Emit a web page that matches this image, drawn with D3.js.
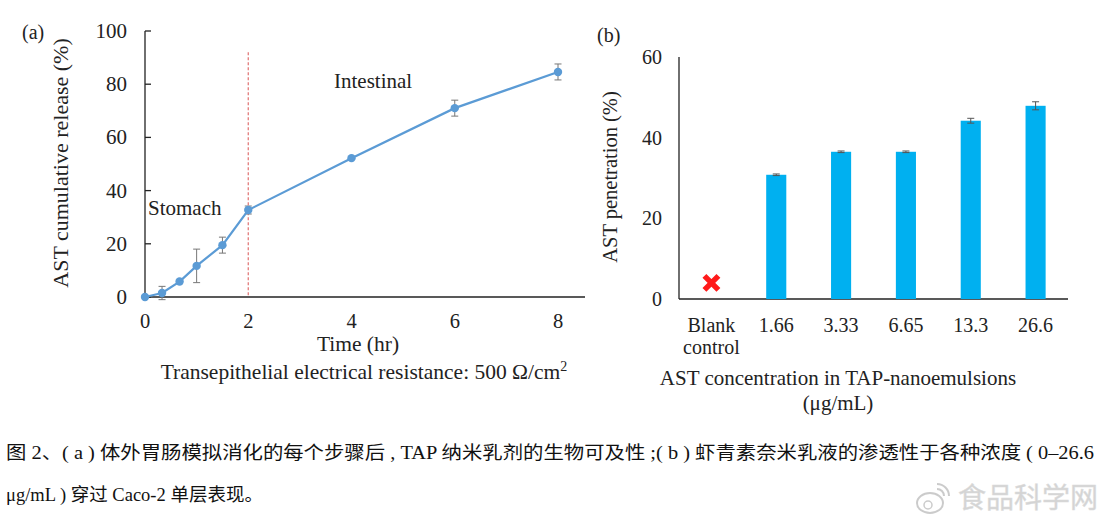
<!DOCTYPE html>
<html><head><meta charset="utf-8">
<script src="https://cdn.jsdelivr.net/npm/d3@7"></script>
<style>
body{margin:0;background:#fff;}
svg text{font-family:"Liberation Serif","Times New Roman",serif;fill:#222;}
</style></head>
<body><svg id="c" width="1119" height="525"></svg>
<script>
// Panel (a) data
const timeHr = [0, 0.33, 0.67, 1, 1.5, 2, 4, 6, 8];
const releasePct = [0, 1.5, 5.8, 11.7, 19.5, 32.7, 52.2, 71, 84.6];
const releaseErr = [0, 2.5, 0, 6.3, 3, 1.5, 0, 3, 3];
const aXTicks = [0, 2, 4, 6, 8];
const aYTicks = [0, 20, 40, 60, 80, 100];
// Panel (b) data
const concLabels = ["Blank control", "1.66", "3.33", "6.65", "13.3", "26.6"];
const penetrationPct = [null, 30.8, 36.5, 36.5, 44.2, 47.9];
const penetrationErr = [0, 0.2, 0.2, 0.2, 0.6, 1.0];
const blankMarkerPct = 4;
const bYTicks = [0, 20, 40, 60];

const svg = d3.select("#c");

// ---------- Panel (a) ----------
const ax = d3.scaleLinear().domain([0, 8]).range([145, 558]);
const ay = d3.scaleLinear().domain([0, 100]).range([297, 31]);
const lineCol = "#5b9bd5";

svg.append("line").attr("x1", ax(0)).attr("x2", 585).attr("y1", ay(0)).attr("y2", ay(0)).attr("stroke", "#222").attr("stroke-width", 1.3);
svg.append("line").attr("x1", ax(0)).attr("x2", ax(0)).attr("y1", ay(0)).attr("y2", ay(100)).attr("stroke", "#222").attr("stroke-width", 1.3);
aYTicks.forEach(t => {
  svg.append("line").attr("x1", ax(0)).attr("x2", ax(0) + 6).attr("y1", ay(t)).attr("y2", ay(t)).attr("stroke", "#222").attr("stroke-width", 1.3);
  svg.append("text").attr("x", 127).attr("y", ay(t) + 7).attr("text-anchor", "end").attr("font-size", 21).text(t);
});
aXTicks.forEach(t => {
  svg.append("text").attr("x", ax(t)).attr("y", 328).attr("text-anchor", "middle").attr("font-size", 20.5).text(t);
});
// dashed line
svg.append("line").attr("x1", ax(2)).attr("x2", ax(2)).attr("y1", ay(92)).attr("y2", ay(0))
  .attr("stroke", "#e07070").attr("stroke-width", 1.2).attr("stroke-dasharray", "3,2");
// error bars
timeHr.forEach((t, i) => {
  const e = releaseErr[i];
  if (!e) return;
  const x = ax(t), y1 = ay(releasePct[i] + e), y2 = ay(releasePct[i] - e);
  const g = svg.append("g").attr("stroke", "#777").attr("stroke-width", 1);
  g.append("line").attr("x1", x).attr("x2", x).attr("y1", y1).attr("y2", y2);
  g.append("line").attr("x1", x - 3.5).attr("x2", x + 3.5).attr("y1", y1).attr("y2", y1);
  g.append("line").attr("x1", x - 3.5).attr("x2", x + 3.5).attr("y1", y2).attr("y2", y2);
});
svg.append("path").datum(timeHr.map((t, i) => [t, releasePct[i]]))
  .attr("d", d3.line().x(d => ax(d[0])).y(d => ay(d[1])))
  .attr("fill", "none").attr("stroke", lineCol).attr("stroke-width", 2.2);
svg.selectAll("circle.a").data(timeHr).enter().append("circle")
  .attr("cx", d => ax(d)).attr("cy", (d, i) => ay(releasePct[i])).attr("r", 4.2).attr("fill", lineCol);

svg.append("text").attr("x", 22).attr("y", 39).attr("font-size", 20).text("(a)");
svg.append("text").attr("x", 148).attr("y", 215).attr("font-size", 21).text("Stomach");
svg.append("text").attr("x", 334).attr("y", 88).attr("font-size", 21).text("Intestinal");
svg.append("text").attr("transform", "translate(68,163) rotate(-90)").attr("text-anchor", "middle").attr("font-size", 22).text("AST cumulative release (%)");
svg.append("text").attr("x", 358).attr("y", 351).attr("text-anchor", "middle").attr("font-size", 21.5).text("Time (hr)");
const tt = svg.append("text").attr("x", 364).attr("y", 379).attr("text-anchor", "middle").attr("font-size", 21.5);
tt.append("tspan").text("Transepithelial electrical resistance: 500 Ω/cm");
tt.append("tspan").attr("font-size", 14).attr("dy", -8).text("2");

// ---------- Panel (b) ----------
const bx = d3.scaleBand().domain(concLabels).range([679, 1068]).paddingInner(0.69).paddingOuter(0.345);
const by = d3.scaleLinear().domain([0, 60]).range([299, 57]);
const barCol = "#00b0f0";

svg.append("line").attr("x1", 679).attr("x2", 1068).attr("y1", by(0)).attr("y2", by(0)).attr("stroke", "#222").attr("stroke-width", 1.3);
svg.append("line").attr("x1", 679).attr("x2", 679).attr("y1", by(0)).attr("y2", by(60)).attr("stroke", "#222").attr("stroke-width", 1.3);
bYTicks.forEach(t => {
  svg.append("text").attr("x", 662).attr("y", by(t) + 7).attr("text-anchor", "end").attr("font-size", 20).text(t);
});
concLabels.forEach((c, i) => {
  const cx = bx(c) + bx.bandwidth() / 2;
  if (penetrationPct[i] !== null) {
    svg.append("rect").attr("x", bx(c)).attr("width", bx.bandwidth()).attr("y", by(penetrationPct[i]))
      .attr("height", by(0) - by(penetrationPct[i])).attr("fill", barCol);
    const e = penetrationErr[i];
    const y1 = by(penetrationPct[i] + e), y2 = by(penetrationPct[i] - e);
    const g = svg.append("g").attr("stroke", "#555").attr("stroke-width", 1);
    g.append("line").attr("x1", cx).attr("x2", cx).attr("y1", y1).attr("y2", y2);
    g.append("line").attr("x1", cx - 3.5).attr("x2", cx + 3.5).attr("y1", y1).attr("y2", y1);
    g.append("line").attr("x1", cx - 3.5).attr("x2", cx + 3.5).attr("y1", y2).attr("y2", y2);
  } else {
    const cy = by(blankMarkerPct);
    svg.append("path").attr("d", `M${cx - 7},${cy - 7}L${cx + 7},${cy + 7}M${cx + 7},${cy - 7}L${cx - 7},${cy + 7}`)
      .attr("stroke", "#ff1a1a").attr("stroke-width", 5.5).attr("stroke-linecap", "butt");
  }
  const words = c.split(" ");
  words.forEach((w, j) => {
    svg.append("text").attr("x", cx).attr("y", 332 + j * 22).attr("text-anchor", "middle").attr("font-size", 20).text(w);
  });
});
svg.append("text").attr("x", 597).attr("y", 42).attr("font-size", 20).text("(b)");
svg.append("text").attr("transform", "translate(617,177) rotate(-90)").attr("text-anchor", "middle").attr("font-size", 20.5).text("AST penetration (%)");
svg.append("text").attr("x", 838).attr("y", 385).attr("text-anchor", "middle").attr("font-size", 21).text("AST concentration in TAP-nanoemulsions");
svg.append("text").attr("x", 838).attr("y", 410).attr("text-anchor", "middle").attr("font-size", 21).text("(μg/mL)");

// ---------- Caption ----------
const capFont = '"Liberation Serif","Noto Sans CJK SC",serif';
svg.append("text").attr("x", 6).attr("y", 459).attr("font-size", 18).attr("textLength", 1088).attr("lengthAdjust", "spacingAndGlyphs")
  .style("font-family", capFont).style("fill", "#111")
  .text("图 2、( a ) 体外胃肠模拟消化的每个步骤后 , TAP 纳米乳剂的生物可及性 ;( b ) 虾青素奈米乳液的渗透性于各种浓度 ( 0–26.6");
svg.append("text").attr("x", 6).attr("y", 501).attr("font-size", 18.5)
  .style("font-family", capFont).style("fill", "#111")
  .text("μg/mL ) 穿过 Caco-2 单层表现。");
// watermark
const wm = svg.append("g").attr("opacity", 0.5);
wm.append("ellipse").attr("cx", 930).attr("cy", 503).attr("rx", 13).attr("ry", 10).attr("fill", "none").attr("stroke", "#999").attr("stroke-width", 2);
wm.append("circle").attr("cx", 928).attr("cy", 505).attr("r", 4).attr("fill", "none").attr("stroke", "#999").attr("stroke-width", 1.5);
wm.append("path").attr("d", "M937,484 A12,12 0 0 1 949,496 M937,489 A7,7 0 0 1 944,496").attr("fill", "none").attr("stroke", "#999").attr("stroke-width", 2);
wm.append("text").attr("x", 958).attr("y", 508).attr("font-size", 28).style("font-family", '"Noto Sans CJK SC",sans-serif').style("fill", "#aaa").style("stroke", "#bbb").style("stroke-width", 0.5).text("食品科学网");
</script></body></html>
